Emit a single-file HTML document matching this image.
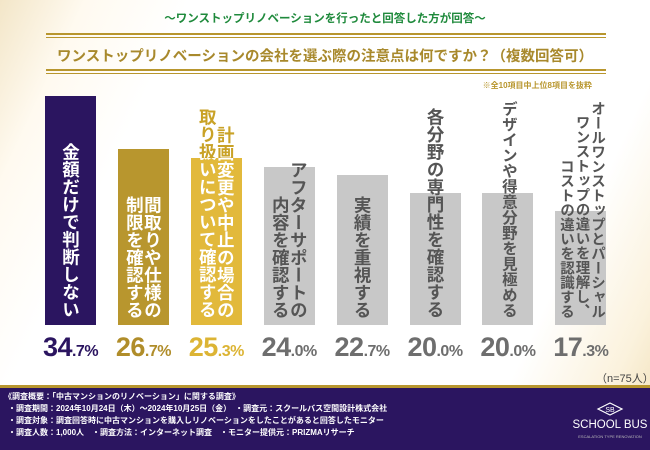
<!DOCTYPE html>
<html><head><meta charset="utf-8">
<style>
body{margin:0;}
#root{position:relative;width:650px;height:450px;overflow:hidden;font-family:"Liberation Sans","Noto Sans CJK JP",sans-serif;
background:linear-gradient(115deg,#f3e6c8 0%,#fffaf0 10%,#ffffff 22%,#ffffff 80%,#fbf2dd 92%,#f1e0b8 100%);}
.abs{position:absolute;}
.line{position:absolute;left:46px;width:560px;background:#b8962e;}
.vt{position:absolute;writing-mode:vertical-rl;font-weight:bold;text-align:end;white-space:nowrap;}
.val{position:absolute;top:332px;width:80px;text-align:center;font-family:"Liberation Sans Narrow","Liberation Sans",sans-serif;font-weight:bold;font-size:27px;letter-spacing:-0.5px;}
.val small{font-size:16px;}
.ft{position:absolute;left:8px;color:#fff;font-size:8px;font-weight:bold;white-space:nowrap;}
</style></head><body>
<div id="root">
<div class="abs" style="left:0;width:650px;top:10px;text-align:center;color:#1f8a3c;font-size:11.5px;font-weight:bold;">～ワンストップリノベーションを行ったと回答した方が回答～</div>
<div class="line" style="top:33px;height:2px;"></div>
<div class="line" style="top:37px;height:1px;"></div>
<div class="abs" style="left:0;width:650px;top:45px;text-align:center;color:#a8892c;font-size:14.5px;font-weight:bold;">ワンストップリノベーションの会社を選ぶ際の注意点は何ですか？（複数回答可）</div>
<div class="line" style="top:69px;height:2px;"></div>
<div class="line" style="top:73px;height:1px;"></div>
<div class="abs" style="right:58px;top:80px;color:#b8962e;font-size:8px;font-weight:bold;">※全10項目中上位8項目を抜粋</div>
<div id="bars"></div>
<div class="abs" style="left:596px;top:370px;color:#444;font-size:11px;">（n=75人）</div>
<div class="abs" style="left:0;top:385px;width:650px;height:3px;background:#b8962e;"></div>
<div class="abs" style="left:0;top:388px;width:650px;height:62px;background:#2b1560;">
<div class="ft" style="top:3px;left:4px;">《調査概要：「中古マンションのリノベーション」に関する調査》</div>
<div class="ft" style="top:15px;">・調査期間：2024年10月24日（木）～2024年10月25日（金）　・調査元：スクールバス空間設計株式会社</div>
<div class="ft" style="top:27px;">・調査対象：調査回答時に中古マンションを購入しリノベーションをしたことがあると回答したモニター</div>
<div class="ft" style="top:39px;">・調査人数：1,000人　・調査方法：インターネット調査　・モニター提供元：PRIZMAリサーチ</div>
<svg class="abs" style="left:596px;top:14px;" width="28" height="14"><polygon points="2,7 14,1 26,7 14,13" fill="none" stroke="#fff" stroke-width="1.2"/><text x="14" y="10" fill="#fff" font-size="7" text-anchor="middle" font-family="Liberation Sans">SB</text></svg>
<div class="abs" style="left:560px;width:100px;top:31px;text-align:center;color:#fff;font-size:11.5px;">SCHOOL BUS</div>
<div class="abs" style="left:560px;width:100px;top:46px;text-align:center;color:#bbb;font-size:4px;">ESCALATION TYPE RENOVATION</div>
</div>
</div>
<script>
const categories=[["金額だけで判断しない"],["間取りや仕様の","制限を確認する"],["計画変更や中止の場合の","取り扱いについて確認する"],["アフターサポートの","内容を確認する"],["実績を重視する"],["各分野の専門性を確認する"],["デザインや得意分野を見極める"],["オールワンストップとパーシャル","ワンストップの違いを理解し、","コストの違いを認識する"]];
const values=[34.7,26.7,25.3,24.0,22.7,20.0,20.0,17.3];
const barColors=["#2b1560","#b8962e","#e2b93b","#c8c8c8","#c8c8c8","#c8c8c8","#c8c8c8","#c8c8c8"];
const valColors=["#2b1560","#b08d2a","#dcb434","#6e6e6e","#6e6e6e","#6e6e6e","#6e6e6e","#6e6e6e"];
const textColors=["#fff","#fff","#fff","#555","#555","#555","#555","#555"];
const root=document.getElementById('bars');
const base=325,scale=6.6,x0=45,pitch=72.9,bw=51,textTop=100,textBottom=318;
function xp(i){return x0+i*pitch;}
function yp(v){return base-v*scale;}
values.forEach((v,i)=>{
  const b=document.createElement('div');
  
  
  b.style.cssText=`position:absolute;left:${xp(i)}px;top:${yp(v)}px;width:${bw}px;height:${base-yp(v)}px;background:${barColors[i]};`;
  root.appendChild(b);
  const lines=categories[i];
  const maxc=Math.max(...lines.map(s=>s.length));
  const fs=Math.min(17.5,Math.floor((textBottom-textTop)/maxc*10)/10);
  const lh=lines.length>2?15.5:18;
  const w=lines.length*lh;
  const mk=(color,clip)=>{
    const t=document.createElement('div');
    t.className='vt';
    t.innerHTML=lines.join('<br>');
    t.style.cssText+=`left:${xp(i)+bw/2-w/2}px;top:${textTop}px;height:${textBottom-textTop}px;width:${w}px;font-size:${fs}px;line-height:${lh}px;color:${color};`;
    if(clip)t.style.clipPath=`inset(${yp(v)-textTop}px 0 0 0)`;
    return t;
  };
  const t1=mk(i==2?'#c9a227':textColors[i],false);
  
  
  root.appendChild(t1);
  if(i==2){const t2=mk('#fff',true);
    
    
    root.appendChild(t2);}
  const s=v.toFixed(1).split('.');
  const l=document.createElement('div');
  l.className='val';
  
  
  l.style.left=(xp(i)+bw/2-40)+'px';
  l.style.color=valColors[i];
  l.innerHTML=s[0]+'<small>.'+s[1]+'%</small>';
  root.appendChild(l);
});
</script>
</body></html>
